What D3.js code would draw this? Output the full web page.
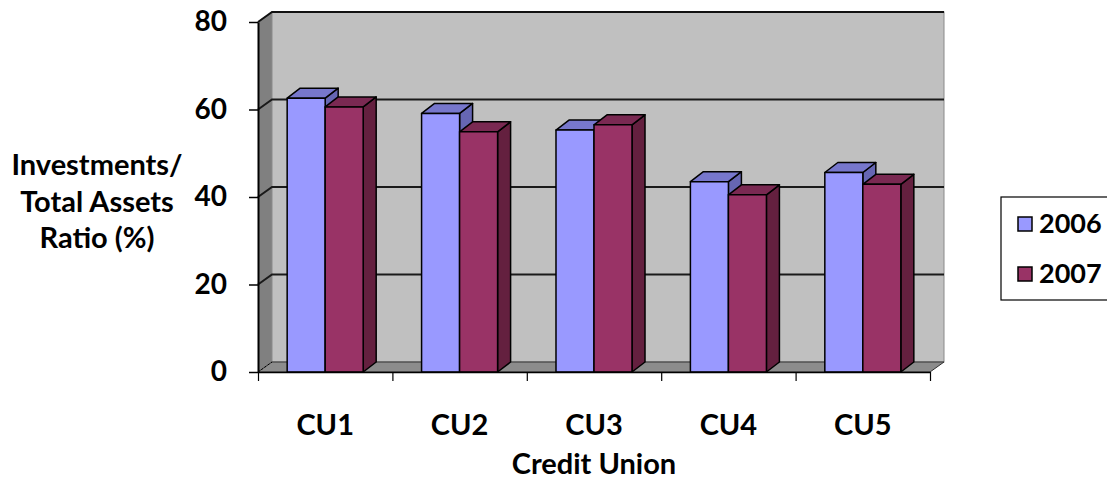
<!DOCTYPE html>
<html>
<head>
<meta charset="utf-8">
<script src="https://cdn.jsdelivr.net/npm/d3@7"></script>
<style>
  body { margin: 0; background: #fff; }
  text { font-family: Lato, "Open Sans", sans-serif; font-weight: bold; fill: #000; }
</style>
</head>
<body>
<div id="chart"></div>
<script>
// data
const categories = ["CU1", "CU2", "CU3", "CU4", "CU5"];
const seriesNames = ["2006", "2007"];
const values2006 = [62.6, 59.1, 55.3, 43.5, 45.6];
const values2007 = [60.6, 54.9, 56.5, 40.5, 42.9];
const yTicks = [0, 20, 40, 60, 80];

const width = 1107, height = 479;
const plotLeft = 258, plotRight = 930, plotBottom = 372, plotTop = 22;
const depthX = 14, depthY = -10;   // 3d depth of walls
const barDX = 13, barDY = -10;     // 3d depth of bars

const colors = {
  "2006": { front: "#9999ff", top: "#7777cc", side: "#6666b3" },
  "2007": { front: "#993366", top: "#7a2952", side: "#64203f" }
};

let svg = d3.select("#chart").append("svg")
    .attr("width", width)
    .attr("height", height);

let y = d3.scaleLinear().domain([0, 80]).range([plotBottom, plotTop]);
let x = d3.scaleBand().domain(categories).range([plotLeft, plotRight])
    .paddingInner(0.4345).paddingOuter(0.217);
let xSeries = d3.scaleBand().domain(seriesNames).range([0, x.bandwidth()]);
let xEdges = d3.scaleLinear().domain([0, categories.length]).range([plotLeft, plotRight]);

const pts = (arr) => arr.map((p) => p.join(",")).join(" ");

// walls: side, back, floor
svg.append("polygon")
   .attr("points", pts([[plotLeft, y(80)], [plotLeft + depthX, y(80) + depthY], [plotLeft + depthX, plotBottom + depthY], [plotLeft, plotBottom]]))
   .style("fill", "#808080");
svg.append("rect")
   .attr("x", plotLeft + depthX).attr("y", y(80) + depthY)
   .attr("width", plotRight - plotLeft).attr("height", plotBottom - y(80))
   .style("fill", "#c0c0c0").style("stroke", "#8a8a8a").style("stroke-width", 1);
svg.append("polyline")
   .attr("points", pts([[plotLeft, y(80)], [plotLeft + depthX, y(80) + depthY], [plotRight + depthX, y(80) + depthY]]))
   .style("fill", "none").style("stroke", "#111").style("stroke-width", 2);
svg.append("polygon")
   .attr("points", pts([[plotLeft, plotBottom], [plotLeft + depthX, plotBottom + depthY], [plotRight + depthX, plotBottom + depthY], [plotRight, plotBottom]]))
   .style("fill", "#8c8c8c").style("stroke", "#333").style("stroke-width", 1);
svg.append("line")
   .attr("x1", plotLeft).attr("y1", plotBottom).attr("x2", plotLeft + depthX).attr("y2", plotBottom + depthY)
   .style("stroke", "#000").style("stroke-dasharray", "2,2");

// gridlines on back wall and side wall
yTicks.filter((t) => t > 0 && t < 80).forEach((t) => {
    svg.append("polyline")
       .attr("points", pts([[plotLeft, y(t)], [plotLeft + depthX, y(t) + depthY], [plotRight + depthX, y(t) + depthY]]))
       .style("fill", "none").style("stroke", "#1a1a1a").style("stroke-width", 2);
});

// bars
let rows = categories.map((c, i) => ({ cat: c, "2006": values2006[i], "2007": values2007[i] }));
rows.forEach((row) => {
    seriesNames.forEach((s) => {
        let x0 = x(row.cat) + xSeries(s);
        let x1 = x0 + xSeries.bandwidth();
        let yt = y(row[s]);
        let g = svg.append("g").style("stroke", "#000").style("stroke-width", 1.5).style("stroke-linejoin", "round");
        g.append("polygon")
         .attr("points", pts([[x1, yt], [x1 + barDX, yt + barDY], [x1 + barDX, plotBottom + barDY], [x1, plotBottom]]))
         .style("fill", colors[s].side);
        g.append("polygon")
         .attr("points", pts([[x0, yt], [x0 + barDX, yt + barDY], [x1 + barDX, yt + barDY], [x1, yt]]))
         .style("fill", colors[s].top);
        g.append("rect")
         .attr("x", x0).attr("y", yt)
         .attr("width", x1 - x0).attr("height", plotBottom - yt)
         .style("fill", colors[s].front);
    });
});

// y axis
let yAxis = svg.append("g")
    .attr("transform", `translate(${plotLeft},0)`)
    .call(d3.axisLeft(y).tickValues(yTicks).tickSize(9).tickPadding(22).tickSizeOuter(0));
yAxis.select(".domain").style("stroke", "#000").style("stroke-width", 2);
yAxis.selectAll(".tick line").style("stroke", "#000").style("stroke-width", 1.5);
yAxis.selectAll("text").style("font-size", "28px").attr("font-family", null);

// x axis: tick marks at category edges, labels at centers
let xTicks = svg.append("g")
    .attr("transform", `translate(0,${plotBottom})`)
    .call(d3.axisBottom(xEdges).tickValues(d3.range(categories.length + 1)).tickSize(9).tickFormat("").tickSizeOuter(0));
xTicks.select(".domain").style("stroke", "#000").style("stroke-width", 1.5);
xTicks.selectAll(".tick line").style("stroke", "#000").style("stroke-width", 1.2);

let xLabels = svg.append("g")
    .attr("transform", `translate(0,${plotBottom})`)
    .call(d3.axisBottom(x.copy().paddingInner(0).paddingOuter(0)).tickSize(0).tickPadding(42));
xLabels.select(".domain").remove();
xLabels.selectAll("text").style("font-size", "29px").attr("font-family", null);

// axis titles
svg.append("text")
   .attr("x", (plotLeft + plotRight) / 2).attr("y", 474)
   .attr("text-anchor", "middle")
   .style("font-size", "29px")
   .text("Credit Union");

let yTitle = svg.append("text")
   .attr("text-anchor", "middle")
   .style("font-size", "29px");
["Investments/", "Total Assets", "Ratio (%)"].forEach((line, i) => {
    yTitle.append("tspan").attr("x", 97).attr("y", 175 + i * 36.5).text(line);
});

// legend
let legend = svg.append("g");
legend.append("rect")
   .attr("x", 1001).attr("y", 197).attr("width", 130).attr("height", 103)
   .style("fill", "#fff").style("stroke", "#000").style("stroke-width", 1.2);
seriesNames.forEach((s, i) => {
    legend.append("rect")
       .attr("x", 1018).attr("y", 217 + i * 50).attr("width", 14).attr("height", 14)
       .style("fill", colors[s].front).style("stroke", "#000").style("stroke-width", 1.5);
    legend.append("text")
       .attr("x", 1039).attr("y", 233 + i * 50)
       .style("font-size", "27px")
       .text(s);
});
</script>
</body>
</html>
